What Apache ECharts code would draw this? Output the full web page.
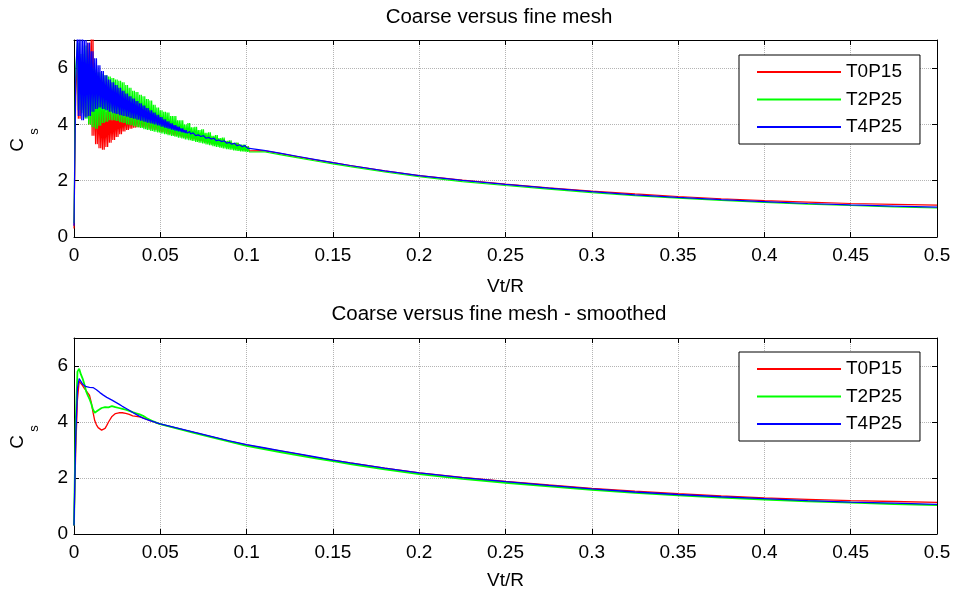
<!DOCTYPE html>
<html>
<head>
<meta charset="utf-8">
<script src="https://cdn.jsdelivr.net/npm/echarts@6/dist/echarts.min.js"></script>
<style>html,body{margin:0;padding:0;background:#fff}#c{width:957px;height:597px}</style>
</head>
<body>
<div id="c"></div>
<script>
// ---------- data ----------
const seriesNames = ['T0P15', 'T2P25', 'T4P25'];
const seriesColors = ['#ff0000', '#00ff00', '#0000ff'];
const xTickLabels = ['0', '0.05', '0.1', '0.15', '0.2', '0.25', '0.3', '0.35', '0.4', '0.45', '0.5'];
const yTickLabels = ['0', '2', '4', '6'];

// raw signal start (x = 0 and x = 0.001)
const startX = [0, 0.001];
const redStart = [0.3, 5.0];
const greenStart = [0.5, 6.0];
const blueStart = [0.4, 5.5];

// oscillation envelope of the raw signal (upper / lower reading)
const noiseX = [0.002,0.004,0.006,0.008,0.010,0.012,0.014,0.016,0.018,0.020,
  0.022,0.024,0.026,0.028,0.030,0.032,0.034,0.036,0.038,0.040,
  0.042,0.044,0.046,0.048,0.050,0.052,0.054,0.056,0.058,0.060,
  0.062,0.064,0.066,0.068,0.070,0.072,0.074,0.076,0.078,0.080,
  0.082,0.084,0.086,0.088,0.090,0.092,0.094,0.096,0.098,0.100];
const redHi = [6.4,5.6,6.2,6.9,7.3,5.2,4.7,4.5,4.45,4.5,
  4.4,4.5,4.45,4.4,4.45,4.4,4.35,4.4,4.35,4.3,
  4.3,4.25,4.2,4.2,4.12,4.1,4.02,3.98,3.95,3.9,
  3.88,3.82,3.83,3.72,3.7,3.66,3.65,3.6,3.56,3.55,
  3.5,3.46,3.48,3.4,3.38,3.33,3.34,3.26,3.25,3.22];
const redLo = [4.2,4.5,4.3,4.0,3.6,3.3,3.15,3.1,3.2,3.35,
  3.45,3.55,3.65,3.75,3.8,3.85,3.88,3.9,3.9,3.88,
  3.85,3.82,3.8,3.76,3.73,3.7,3.66,3.63,3.6,3.58,
  3.55,3.52,3.5,3.47,3.44,3.41,3.38,3.35,3.32,3.29,
  3.27,3.24,3.22,3.19,3.17,3.15,3.12,3.1,3.08,3.06];
const greenHi = [6.9,6.5,6.8,6.3,6.0,5.95,5.85,5.8,5.75,5.7,
  5.65,5.6,5.55,5.5,5.4,5.3,5.2,5.15,5.05,5.0,
  4.9,4.85,4.7,4.6,4.5,4.45,4.42,4.3,4.3,4.15,
  4.15,4.0,4.05,3.9,3.92,3.8,3.83,3.7,3.72,3.6,
  3.62,3.52,3.53,3.42,3.44,3.35,3.36,3.28,3.28,3.22];
const greenLo = [4.5,4.4,4.2,4.0,3.9,3.85,3.95,4.05,4.1,4.15,
  4.15,4.12,4.08,4.05,4.0,3.97,3.94,3.9,3.87,3.83,
  3.8,3.77,3.74,3.71,3.68,3.65,3.62,3.59,3.56,3.53,
  3.5,3.47,3.44,3.41,3.38,3.35,3.32,3.29,3.26,3.23,
  3.2,3.17,3.15,3.12,3.1,3.08,3.06,3.04,3.03,3.02];
const blueHi = [7.3,7.1,7.0,6.9,6.6,6.35,6.1,5.9,5.75,5.6,
  5.5,5.4,5.3,5.2,5.1,5.0,4.92,4.83,4.75,4.67,
  4.58,4.5,4.42,4.34,4.26,4.18,4.11,4.04,3.98,3.92,
  3.86,3.8,3.75,3.7,3.66,3.63,3.6,3.57,3.54,3.51,
  3.48,3.45,3.42,3.39,3.36,3.33,3.31,3.28,3.25,3.22];
const blueLo = [4.3,4.15,4.25,4.3,4.45,4.55,4.6,4.55,4.5,4.45,
  4.4,4.37,4.33,4.3,4.27,4.23,4.2,4.17,4.13,4.1,
  4.06,4.03,4.0,3.96,3.92,3.88,3.85,3.81,3.78,3.75,
  3.72,3.69,3.66,3.63,3.6,3.57,3.54,3.51,3.48,3.45,
  3.42,3.39,3.36,3.33,3.3,3.27,3.24,3.21,3.18,3.16];

// smooth decay after x = 0.1 (both panels)
const tailX = [0.11,0.12,0.13,0.14,0.15,0.16,0.18,0.2,0.225,0.25,0.275,0.3,0.325,0.35,0.375,0.4,0.425,0.45,0.475,0.5];
const redTail = [3.07,2.96,2.85,2.74,2.64,2.54,2.35,2.18,2.02,1.88,1.75,1.63,1.53,1.44,1.36,1.29,1.24,1.19,1.16,1.13];
const greenTail = [3.03,2.92,2.81,2.7,2.6,2.5,2.31,2.14,1.97,1.83,1.7,1.58,1.47,1.38,1.3,1.23,1.17,1.12,1.07,1.03];
const blueTail = [3.08,2.97,2.86,2.75,2.64,2.54,2.35,2.18,2.01,1.87,1.74,1.61,1.5,1.41,1.33,1.26,1.19,1.14,1.1,1.06];

// smoothed signal, x <= 0.1 (bottom panel)
const smoothX = [0,0.001,0.002,0.003,0.004,0.005,0.006,0.007,0.008,0.009,0.01,
  0.011,0.012,0.013,0.014,0.015,0.016,0.017,0.018,0.019,0.02,
  0.022,0.024,0.026,0.028,0.03,0.032,0.034,0.036,0.038,0.04,0.042,0.044,0.046,0.048,0.05,
  0.06,0.07,0.08,0.09,0.1];
const redSmooth = [0.3,3.0,4.8,5.45,5.45,5.3,5.2,5.12,5.08,4.95,4.7,
  4.35,4.05,3.9,3.8,3.73,3.71,3.72,3.77,3.88,4.0,
  4.2,4.3,4.33,4.33,4.31,4.27,4.22,4.2,4.18,4.15,4.1,4.05,4.01,3.96,3.92,
  3.77,3.62,3.47,3.32,3.18];
const greenSmooth = [0.3,4.0,5.8,5.9,5.7,5.55,5.35,5.1,4.95,4.82,4.65,
  4.45,4.33,4.35,4.42,4.45,4.5,4.48,4.53,4.55,4.52,
  4.57,4.53,4.5,4.47,4.44,4.4,4.35,4.31,4.27,4.22,4.14,4.08,4.02,3.97,3.92,
  3.76,3.6,3.45,3.3,3.15];
const blueSmooth = [0.3,3.5,5.2,5.55,5.5,5.35,5.28,5.26,5.25,5.24,5.24,
  5.23,5.2,5.15,5.1,5.05,5.0,4.96,4.92,4.88,4.85,
  4.78,4.71,4.64,4.56,4.49,4.42,4.34,4.27,4.2,4.14,4.09,4.05,4.01,3.97,3.93,
  3.78,3.63,3.48,3.33,3.19];

// ---------- build ----------
const FONT = '"Liberation Sans", Arial, Helvetica, sans-serif';

// The raw signal oscillates between its upper and lower reading about
// twice per sample step; each sample's read pair is repeated for that.
function rawData(start, hi, lo, tail) {
  const d = [];
  startX.forEach((x, i) => d.push([x, start[i]]));
  for (let i = 0; i < noiseX.length; i++) {
    const next = i + 1 < noiseX.length ? noiseX[i + 1] : 2 * noiseX[i] - noiseX[i - 1];
    const step = (next - noiseX[i]) / 4;
    d.push([noiseX[i], hi[i]]);
    d.push([noiseX[i] + step, lo[i]]);
    d.push([noiseX[i] + 2 * step, hi[i]]);
    d.push([noiseX[i] + 3 * step, lo[i]]);
  }
  tailX.forEach((x, i) => d.push([x, tail[i]]));
  return d;
}
function smoothData(vals, tail) {
  const d = smoothX.map((x, i) => [x, vals[i]]);
  tailX.forEach((x, i) => d.push([x, tail[i]]));
  return d;
}

const black = '#000';
function xMain(gi, gap) {
  return {
    type: 'value', gridIndex: gi, min: 0, max: 0.5, interval: 0.05, position: 'bottom',
    name: 'Vt/R', nameLocation: 'middle', nameGap: gap,
    nameTextStyle: { fontSize: 19, color: black, fontFamily: FONT },
    axisLine: { show: true, onZero: false, lineStyle: { color: black, width: 1 } },
    axisTick: { inside: true, length: 5, lineStyle: { color: black } },
    axisLabel: { color: black, fontSize: 19, fontFamily: FONT, margin: 9,
      formatter: v => xTickLabels[Math.round(v / 0.05)] },
    splitLine: { show: true, lineStyle: { type: 'dotted', color: '#b4b4b4', width: 1 } }
  };
}
function xTop(gi) {
  return {
    type: 'value', gridIndex: gi, min: 0, max: 0.5, interval: 0.05, position: 'top',
    axisLine: { show: true, onZero: false, lineStyle: { color: black } },
    axisTick: { inside: true, length: 5, lineStyle: { color: black } },
    axisLabel: { show: false }, splitLine: { show: false }
  };
}
function yMain(gi) {
  return {
    type: 'value', gridIndex: gi, min: 0, max: 7, interval: 2, position: 'left',
    axisLine: { show: true, onZero: false, lineStyle: { color: black } },
    axisTick: { inside: true, length: 5, lineStyle: { color: black } },
    axisLabel: { color: black, fontSize: 19, fontFamily: FONT, margin: 6, showMaxLabel: false,
      formatter: v => yTickLabels[Math.round(v / 2)] },
    splitLine: { show: true, lineStyle: { type: 'dotted', color: '#b4b4b4', width: 1 } }
  };
}
function yRight(gi) {
  return {
    type: 'value', gridIndex: gi, min: 0, max: 7, interval: 2, position: 'right',
    axisLine: { show: true, onZero: false, lineStyle: { color: black } },
    axisTick: { inside: true, length: 5, lineStyle: { color: black } },
    axisLabel: { show: false }, splitLine: { show: false }
  };
}
function legendAt(top) {
  return {
    data: seriesNames, orient: 'vertical', left: 739, top: top,
    padding: [6, 18, 6, 18], itemGap: 5.5, itemWidth: 84, itemHeight: 2, itemTextGap: 8,
    icon: 'rect', backgroundColor: '#fff', borderColor: black, borderWidth: 1, borderRadius: 0,
    textStyle: { fontSize: 19, color: black, fontFamily: FONT, lineHeight: 22 }
  };
}

const raw = [rawData(redStart, redHi, redLo, redTail),
             rawData(greenStart, greenHi, greenLo, greenTail),
             rawData(blueStart, blueHi, blueLo, blueTail)];
const smooth = [smoothData(redSmooth, redTail),
                smoothData(greenSmooth, greenTail),
                smoothData(blueSmooth, blueTail)];

const series = [];
seriesNames.forEach((n, i) => series.push({
  name: n, type: 'line', xAxisIndex: 0, yAxisIndex: 0, data: raw[i],
  showSymbol: false, symbol: 'none', color: seriesColors[i],
  lineStyle: { color: seriesColors[i], width: 1.2 }, z: 2 + i
}));
seriesNames.forEach((n, i) => series.push({
  name: n, type: 'line', xAxisIndex: 2, yAxisIndex: 2, data: smooth[i],
  showSymbol: false, symbol: 'none', color: seriesColors[i],
  lineStyle: { color: seriesColors[i], width: i === 1 ? 1.8 : 1.3 }, z: 2 + i
}));

function ylabel(cx, cy) {
  return [
    { type: 'text', x: cx, y: cy, rotation: Math.PI / 2,
      style: { text: 'C', fontSize: 19, fontFamily: FONT, fill: black, textAlign: 'center', textVerticalAlign: 'middle', align: 'center', verticalAlign: 'middle' } },
    { type: 'text', x: cx + 16.5, y: cy - 13.5, rotation: Math.PI / 2,
      style: { text: 's', fontSize: 13, fontFamily: FONT, fill: black, textAlign: 'center', textVerticalAlign: 'middle', align: 'center', verticalAlign: 'middle' } }
  ];
}

const chart = echarts.init(document.getElementById('c'), null, { renderer: 'canvas' });
chart.setOption({
  backgroundColor: '#fff',
  animation: false,
  title: [
    { text: 'Coarse versus fine mesh', left: 499, top: 7, textAlign: 'center', padding: 0,
      textStyle: { fontSize: 20.5, fontWeight: 'normal', color: black, fontFamily: FONT } },
    { text: 'Coarse versus fine mesh - smoothed', left: 499, top: 304, textAlign: 'center', padding: 0,
      textStyle: { fontSize: 20.5, fontWeight: 'normal', color: black, fontFamily: FONT } }
  ],
  grid: [
    { left: 74, right: 20, top: 40, height: 197 },
    { left: 74, right: 20, top: 338, height: 196 }
  ],
  xAxis: [xMain(0, 40), xTop(0), xMain(1, 37), xTop(1)],
  yAxis: [yMain(0), yRight(0), yMain(1), yRight(1)],
  legend: [legendAt(55), legendAt(352)],
  graphic: ylabel(18, 145).concat(ylabel(18, 442)),
  series: series
});
</script>
</body>
</html>
